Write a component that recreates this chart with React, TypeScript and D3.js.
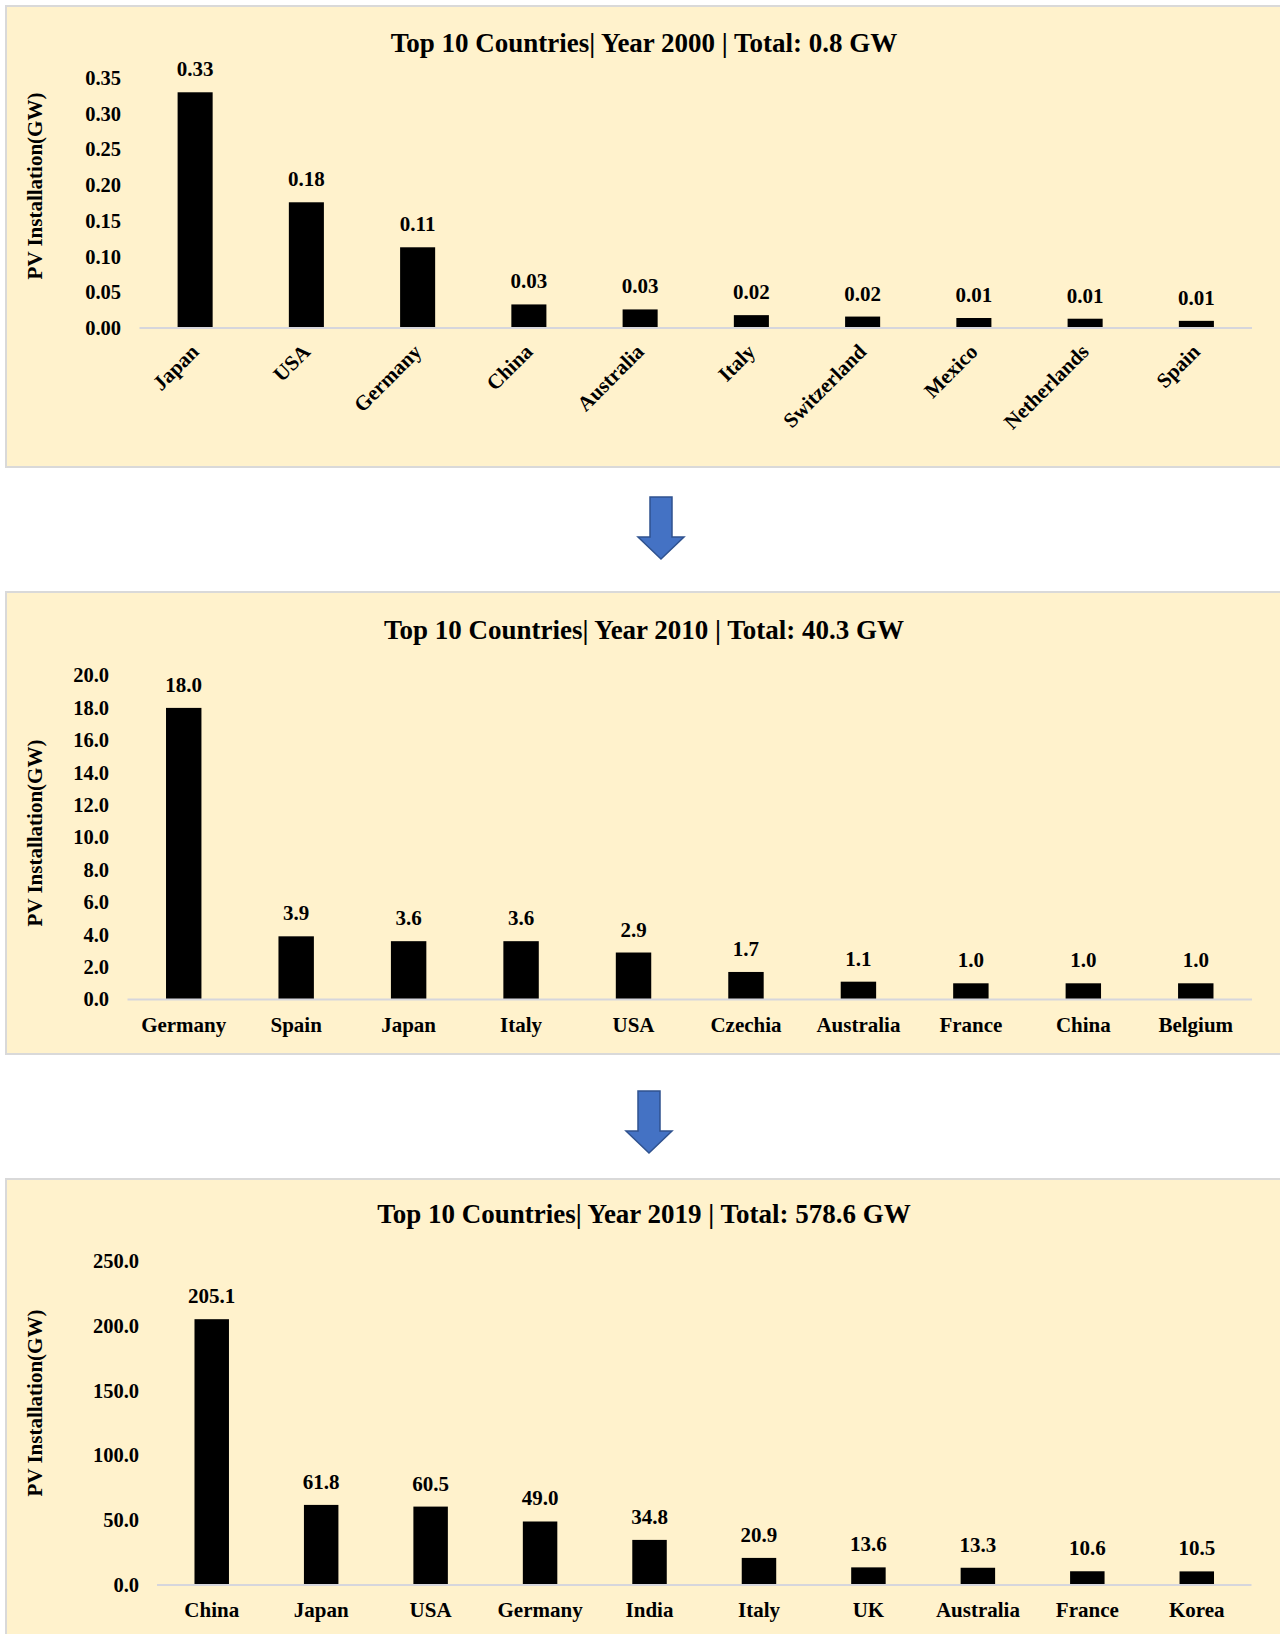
import React from "react";
import * as d3 from "d3";

// ---- Data ----
const countries2000 = ["Japan", "USA", "Germany", "China", "Australia", "Italy", "Switzerland", "Mexico", "Netherlands", "Spain"];
const values2000 = [0.33, 0.176, 0.113, 0.033, 0.026, 0.018, 0.016, 0.014, 0.013, 0.010];
const ticks2000 = [0, 0.05, 0.1, 0.15, 0.2, 0.25, 0.3, 0.35];

const countries2010 = ["Germany", "Spain", "Japan", "Italy", "USA", "Czechia", "Australia", "France", "China", "Belgium"];
const values2010 = [18.0, 3.9, 3.6, 3.6, 2.9, 1.7, 1.1, 1.0, 1.0, 1.0];
const ticks2010 = [0, 2, 4, 6, 8, 10, 12, 14, 16, 18, 20];

const countries2019 = ["China", "Japan", "USA", "Germany", "India", "Italy", "UK", "Australia", "France", "Korea"];
const values2019 = [205.1, 61.8, 60.5, 49.0, 34.8, 20.9, 13.6, 13.3, 10.6, 10.5];
const ticks2019 = [0, 50, 100, 150, 200, 250];

const titles = [
  "Top 10 Countries| Year 2000 | Total: 0.8 GW",
  "Top 10 Countries| Year 2010 | Total: 40.3 GW",
  "Top 10 Countries| Year 2019 | Total: 578.6 GW",
];
const yAxisTitle = "PV Installation(GW)";

// ---- Styling ----
const W = 1280;
const H = 1634;
const FONT = "'Liberation Serif', 'Times New Roman', serif";
const PANEL_FILL = "#FFF2CC";
const PANEL_STROKE = "#D9D9D9";
const AXIS_COLOR = "#D6D6DC";
const ARROW_FILL = "#4472C4";
const ARROW_STROKE = "#2F528F";

type PanelProps = {
  top: number;
  bottom: number;
  title: string;
  titleY: number;
  categories: string[];
  values: number[];
  ticks: number[];
  decimals: number;
  xRange: [number, number];
  yRange: [number, number]; // [pixel at 0, pixel at max tick]
  tickRight: number;
  axisTitleY: number;
  rotated: boolean;
};

function BarPanel(p: PanelProps) {
  const x = d3
    .scaleBand<string>()
    .domain(p.categories)
    .range(p.xRange)
    .paddingInner(0.685)
    .paddingOuter(0.3425);
  const yMax = p.ticks[p.ticks.length - 1];
  const y = d3.scaleLinear().domain([0, yMax]).range(p.yRange);
  const fmt = d3.format(`.${p.decimals}f`);
  const base = y(0);

  return (
    <g>
      <rect
        x={6}
        y={p.top}
        width={W - 6 + 2}
        height={p.bottom - p.top}
        fill={PANEL_FILL}
        stroke={PANEL_STROKE}
        strokeWidth={2}
      />
      <text
        x={644}
        y={p.titleY}
        textAnchor="middle"
        fontFamily={FONT}
        fontWeight="bold"
        fontSize={27}
        fill="#000"
      >
        {p.title}
      </text>
      {/* y-axis tick labels */}
      {p.ticks.map((t) => (
        <text
          key={t}
          x={p.tickRight}
          y={y(t)}
          dy="0.34em"
          textAnchor="end"
          fontFamily={FONT}
          fontWeight="bold"
          fontSize={20.5}
          fill="#000"
        >
          {fmt(t)}
        </text>
      ))}
      {/* y-axis title */}
      <text
        transform={`translate(42, ${p.axisTitleY}) rotate(-90)`}
        textAnchor="middle"
        fontFamily={FONT}
        fontWeight="bold"
        fontSize={21}
        fill="#000"
      >
        {yAxisTitle}
      </text>
      {/* bars */}
      {p.categories.map((c, i) => (
        <rect
          key={c}
          x={x(c)}
          y={y(p.values[i])}
          width={x.bandwidth()}
          height={base - y(p.values[i])}
          fill="#000"
        />
      ))}
      {/* baseline */}
      <line
        x1={p.xRange[0]}
        x2={p.xRange[1]}
        y1={base}
        y2={base}
        stroke={AXIS_COLOR}
        strokeWidth={2}
      />
      {/* value labels */}
      {p.categories.map((c, i) => (
        <text
          key={c}
          x={(x(c) as number) + x.bandwidth() / 2}
          y={y(p.values[i]) - 16}
          textAnchor="middle"
          fontFamily={FONT}
          fontWeight="bold"
          fontSize={21}
          fill="#000"
        >
          {fmt(p.values[i])}
        </text>
      ))}
      {/* category labels */}
      {p.categories.map((c) => {
        const cx = (x(c) as number) + x.bandwidth() / 2;
        return p.rotated ? (
          <text
            key={c}
            transform={`translate(${cx + 5}, ${base + 25}) rotate(-45)`}
            textAnchor="end"
            fontFamily={FONT}
            fontWeight="bold"
            fontSize={21}
            fill="#000"
          >
            {c}
          </text>
        ) : (
          <text
            key={c}
            x={cx}
            y={base + 32}
            textAnchor="middle"
            fontFamily={FONT}
            fontWeight="bold"
            fontSize={21}
            fill="#000"
          >
            {c}
          </text>
        );
      })}
    </g>
  );
}

function DownArrow({ cx, top }: { cx: number; top: number }) {
  const path = d3.path();
  path.moveTo(cx - 11, top);
  path.lineTo(cx + 11, top);
  path.lineTo(cx + 11, top + 40);
  path.lineTo(cx + 23, top + 40);
  path.lineTo(cx, top + 62);
  path.lineTo(cx - 23, top + 40);
  path.lineTo(cx - 11, top + 40);
  path.closePath();
  return <path d={path.toString()} fill={ARROW_FILL} stroke={ARROW_STROKE} strokeWidth={1.5} />;
}

export default function App() {
  return (
    <div style={{ position: "absolute", left: 0, top: 0, width: W, height: H, background: "#fff" }}>
      <svg width={W} height={H} viewBox={`0 0 ${W} ${H}`} style={{ display: "block" }}>
        <rect x={0} y={0} width={W} height={H} fill="#fff" />
        <BarPanel
          top={6}
          bottom={467}
          title={titles[0]}
          titleY={52}
          categories={countries2000}
          values={values2000}
          ticks={ticks2000}
          decimals={2}
          xRange={[139.5, 1252]}
          yRange={[328, 78]}
          tickRight={121}
          axisTitleY={186}
          rotated={true}
        />
        <DownArrow cx={661} top={497} />
        <BarPanel
          top={592}
          bottom={1054}
          title={titles[1]}
          titleY={639}
          categories={countries2010}
          values={values2010}
          ticks={ticks2010}
          decimals={1}
          xRange={[127.5, 1252]}
          yRange={[999.5, 675.5]}
          tickRight={109}
          axisTitleY={833}
          rotated={false}
        />
        <DownArrow cx={649} top={1091} />
        <BarPanel
          top={1179}
          bottom={1640}
          title={titles[2]}
          titleY={1223}
          categories={countries2019}
          values={values2019}
          ticks={ticks2019}
          decimals={1}
          xRange={[157, 1251.5]}
          yRange={[1585, 1261]}
          tickRight={139}
          axisTitleY={1403}
          rotated={false}
        />
      </svg>
    </div>
  );
}
